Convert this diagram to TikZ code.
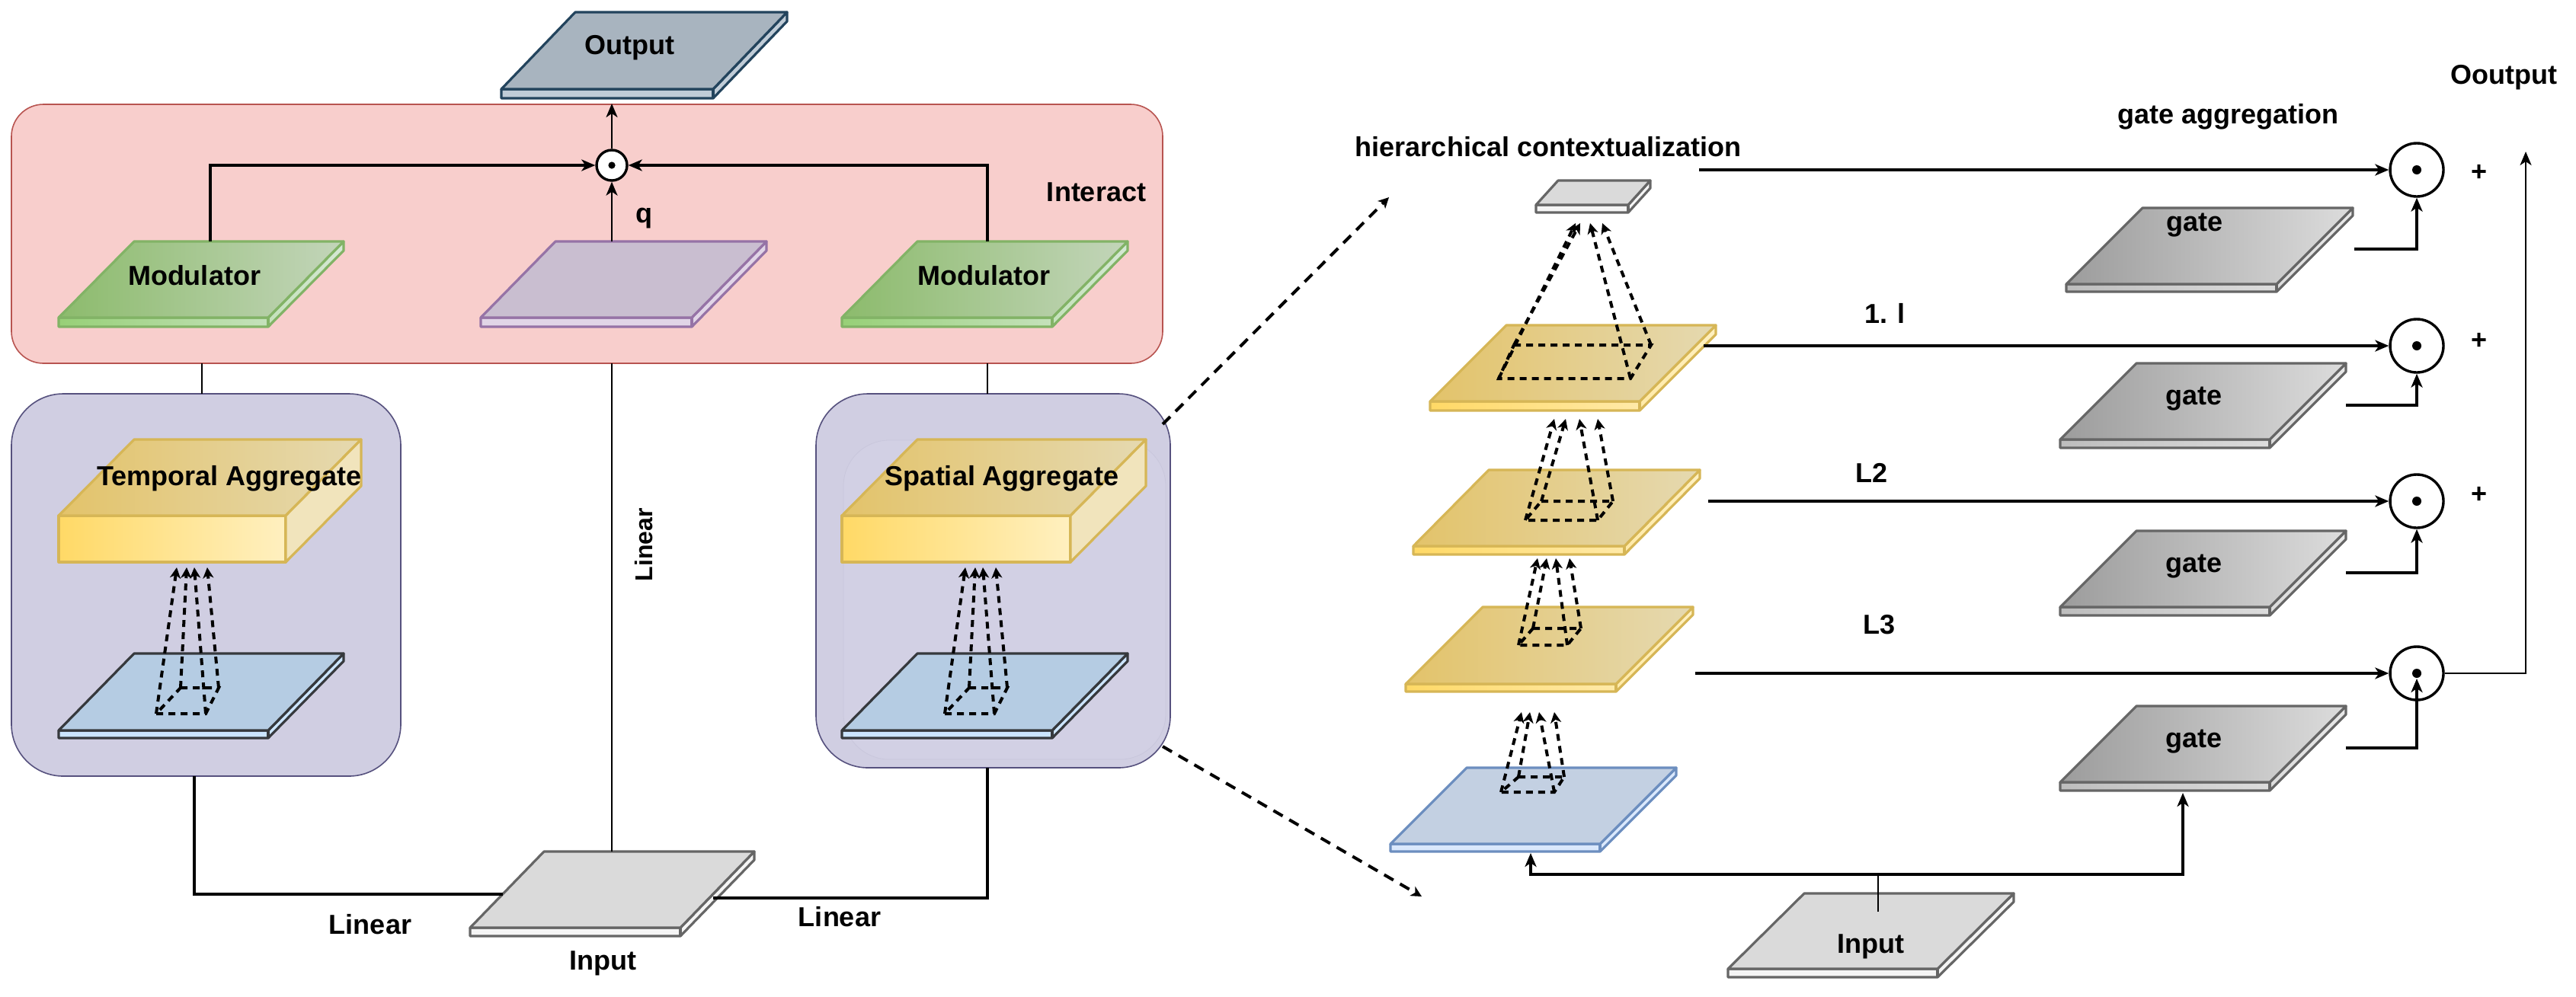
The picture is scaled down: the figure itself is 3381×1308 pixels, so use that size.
\documentclass[tikz,border=0pt]{standalone}
\usepackage{fontspec}
\setmainfont{Liberation Sans}
\usetikzlibrary{arrows.meta}
\definecolor{pinkF}{HTML}{F8CECC}\definecolor{pinkD}{HTML}{B85450}
\definecolor{purF}{HTML}{D0CEE2}\definecolor{purD}{HTML}{56517E}
\definecolor{purI}{HTML}{D2D0E4}\definecolor{purID}{HTML}{C9C7DC}
\definecolor{outF}{HTML}{A8B4BF}\definecolor{outS}{HTML}{C0CCD7}\definecolor{outD}{HTML}{23445D}
\definecolor{grnA}{HTML}{8CBB6C}\definecolor{grnB}{HTML}{C3D5BA}\definecolor{grnSA}{HTML}{97D077}\definecolor{grnSB}{HTML}{D5E8D4}\definecolor{grnD}{HTML}{82B366}
\definecolor{vioF}{HTML}{C9BED0}\definecolor{vioS}{HTML}{E1D5E7}\definecolor{vioD}{HTML}{9673A6}
\definecolor{yelA}{HTML}{E3C36A}\definecolor{yelB}{HTML}{E5D9B0}\definecolor{yelSA}{HTML}{FFD966}\definecolor{yelSB}{HTML}{FFF0C0}\definecolor{yelD}{HTML}{D6B656}\definecolor{yelSide}{HTML}{F1E4BC}
\definecolor{bluF}{HTML}{B5CCE3}\definecolor{bluS}{HTML}{CCE5FF}\definecolor{bluD}{HTML}{36393D}
\definecolor{blbF}{HTML}{C3D0E2}\definecolor{blbS}{HTML}{DAE8FC}\definecolor{blbD}{HTML}{6C8EBF}
\definecolor{gryF}{HTML}{DADADA}\definecolor{gryS}{HTML}{F5F5F5}\definecolor{gryD}{HTML}{666666}
\definecolor{gtA}{HTML}{9C9C9C}\definecolor{gtB}{HTML}{DCDCDC}\definecolor{gtSA}{HTML}{BDBDBD}\definecolor{gtSB}{HTML}{E8E8E8}
% plate: #1 x0, #2 y0 (back-left corner), #3 width, #4 skew, #5 depth, #6 slab, #7 top fill, #8 slab fill, #9 draw colour
\newcommand{\plate}[9]{%
  \path[#8,draw=#9,line width=1.6pt,line join=round] (#1,#2) ++(-#4,#5) -- ++(0,#6) -- ++(#3,0) -- ++(#4,-#5) -- ++(0,-#6) -- ++(-#4,#5) -- cycle;
  \path[#7,draw=#9,line width=1.6pt,line join=round] (#1,#2) -- ++(#3,0) -- ++(-#4,#5) -- ++(-#3,0) -- cycle;
  \draw[#9,line width=1.6pt] (#1,#2) ++(#3,0) ++(-#4,#5) -- ++(0,#6);}
% cuboid: #1 x front-left, #2 y front-top, #3 front width, #4 front height, #5 depth x, #6 depth y
\newcommand{\cuboid}[6]{%
  \path[left color=yelSA,right color=yelSB,draw=yelD,line width=1.6pt,line join=round] (#1,#2) rectangle ++(#3,#4);
  \path[left color=yelA,right color=yelB,draw=yelD,line width=1.6pt,line join=round] (#1,#2) -- ++(#5,-#6) -- ++(#3,0) -- ++(-#5,#6) -- cycle;
  \path[fill=yelSide,draw=yelD,line width=1.6pt,line join=round] (#1,#2) ++(#3,0) -- ++(#5,-#6) -- ++(0,#4) -- ++(-#5,#6) -- cycle;}
\newcommand{\pyrquad}[6]{%
  \coordinate (qbl) at (#2,#1); \coordinate (qbr) at (#3,#1);
  \coordinate (qfl) at (#5,#4); \coordinate (qfr) at (#6,#4);
  \draw[dsh] (qbl) -- (qbr) -- (qfr) -- (qfl) -- cycle;}
\newcommand{\pyrtips}[5]{%
  \coordinate (pt1) at (#2,#1); \coordinate (pt2) at (#3,#1);
  \coordinate (pt3) at (#4,#1); \coordinate (pt4) at (#5,#1);
  \draw[dsh,dtip] (qfl) -- (pt1);
  \draw[dsh,dtip] (qbl) -- (pt2);
  \draw[dsh,dtip] (qfr) -- (pt3);
  \draw[dsh,dtip] (qbr) -- (pt4);}
\begin{document}
\begin{tikzpicture}[x=0.5pt,y=-0.5pt,
  lbl/.style={font=\fontsize{18}{21}\selectfont\bfseries,inner sep=0pt},
  conn/.style={line width=1.8pt,draw=black},
  thin/.style={line width=1.3pt,draw=black},
  arr/.style={-{Stealth[length=9pt,width=7.5pt,inset=2.5pt]}},
  dsh/.style={line width=2pt,dash pattern=on 4.5pt off 3.5pt},
  dlong/.style={line width=2pt,dash pattern=on 7pt off 5pt},
  dtip/.style={-{Stealth[length=7pt,width=7pt,inset=2pt]}},
  odot/.style={circle,draw=black,line width=1.7pt,fill=white,inner sep=0pt}]
\useasboundingbox (0,0) rectangle (3381,1308);
\fill[white] (0,0) rectangle (3381,1308);

% ---------- left part ----------
\draw[fill=pinkF,draw=pinkD,line width=0.8pt,rounded corners=21pt] (15,137) rectangle (1526,477);
\draw[fill=purF,draw=purD,line width=0.8pt,rounded corners=34pt] (15,517) rectangle (526,1019);
\draw[fill=purF,draw=purD,line width=0.8pt,rounded corners=34pt] (1071,517) rectangle (1536,1008);
\draw[fill=purI,draw=purID,line width=0.4pt,rounded corners=30pt] (1107,578) rectangle (1530,997);

% output plate
\plate{755}{16}{278}{97}{101}{12}{fill=outF}{fill=outS}{outD}
\node[lbl] (tOutput) at (826,63) {Output};

% interact plates
\plate{176}{317}{275}{99}{100}{12}{left color=grnA,right color=grnB}{left color=grnSA,right color=grnSB}{grnD}
\plate{1204}{317}{276}{99}{100}{12}{left color=grnA,right color=grnB}{left color=grnSA,right color=grnSB}{grnD}
\plate{729}{317}{277}{98}{100}{12}{fill=vioF}{fill=vioS}{vioD}
\node[lbl] (tModL) at (255,362) {Modulator};
\node[lbl] (tModR) at (1291,362) {Modulator};
\node[lbl] (tq) at (845,287) {q};
\node[lbl] (tInteract) at (1439,252) {Interact};

\node[odot,minimum size=20pt] (odotL) at (803,217) {};
\fill (odotL.center) circle[radius=2.3pt];
\coordinate (modLtop) at (276,317);
\coordinate (modRtop) at (1296,317);
\coordinate (qtop) at (803,317);
\coordinate (outbot) at (803,136);
\draw[conn,arr] (modLtop) |- (odotL.west);
\draw[conn,arr] (modRtop) |- (odotL.east);
\draw[thin,arr] (qtop) -- (odotL.south);
\draw[thin,arr] (odotL.north) -- (outbot);

% aggregates
\cuboid{77}{677}{298}{61}{99}{100}
\cuboid{1105}{677}{300}{61}{99}{100}
\node[lbl] (tTemp) at (301,628) {Temporal Aggregate};
\node[lbl] (tSpat) at (1315,628) {Spatial Aggregate};
\plate{176}{858}{275}{99}{101}{10}{fill=bluF}{fill=bluS}{bluD}
\plate{1204}{858}{276}{99}{101}{10}{fill=bluF}{fill=bluS}{bluD}
\pyrquad{903}{237}{287}{937}{205}{270}
\pyrtips{745}{232}{245}{255}{272}
\pyrquad{903}{1272}{1322}{937}{1240}{1305}
\pyrtips{745}{1267}{1280}{1290}{1307}

% input (left)
\plate{714}{1118}{276}{97}{100}{11}{fill=gryF}{fill=gryS}{gryD}
\node[lbl] (tInL) at (791,1265) {Input};
\node[lbl] (tLin1) at (486,1214) {Linear};
\node[lbl] (tLin2) at (1102,1204) {Linear};
\node[font=\fontsize{16}{19}\selectfont\bfseries,inner sep=0pt,rotate=90] (tLin3) at (845,715) {Linear};

\coordinate (pinkL) at (265,477); \coordinate (tmpTop) at (265,517);
\coordinate (pinkR) at (1296,477); \coordinate (spTop) at (1296,517);
\coordinate (pinkM) at (803,477); \coordinate (inLtop) at (803,1118);
\coordinate (tmpBot) at (255,1019); \coordinate (inLleft) at (660,1174);
\coordinate (spBot) at (1296,1008); \coordinate (inLright) at (936,1179);
\draw[thin] (pinkL) -- (tmpTop);
\draw[thin] (pinkR) -- (spTop);
\draw[thin] (pinkM) -- (inLtop);
\draw[conn] (tmpBot) |- (inLleft);
\draw[conn] (spBot) |- (inLright);

% dashed links to right part
\coordinate (spA) at (1526,557); \coordinate (hcArr) at (1823,259);
\coordinate (spB) at (1526,980); \coordinate (bArr) at (1866,1177);
\draw[dlong,dtip] (spA) -- (hcArr);
\draw[dlong,dtip] (spB) -- (bArr);

% ---------- right part ----------
\plate{2045}{237}{121}{29}{32}{10}{fill=gryF}{fill=gryS}{gryD}
\plate{1977}{427}{275}{100}{100}{12}{left color=yelA,right color=yelB}{left color=yelSA,right color=yelSB}{yelD}
\plate{1954}{617}{277}{99}{100}{11}{left color=yelA,right color=yelB}{left color=yelSA,right color=yelSB}{yelD}
\plate{1946}{797}{276}{101}{101}{10}{left color=yelA,right color=yelB}{left color=yelSA,right color=yelSB}{yelD}
\plate{1925}{1008}{275}{100}{100}{10}{fill=blbF}{fill=blbS}{blbD}
\plate{2368}{1173}{275}{100}{99}{11}{fill=gryF}{fill=gryS}{gryD}
\node[lbl] (tInR) at (2455,1243) {Input};

\pyrquad{453}{1987}{2167}{497}{1967}{2140}
\pyrtips{293}{2068}{2074}{2087}{2103}
\pyrquad{658}{2023}{2117}{683}{2002}{2097}
\pyrtips{550}{2040}{2055}{2073}{2097}
\pyrquad{825}{2012}{2075}{847}{1993}{2057}
\pyrtips{733}{2018}{2030}{2042}{2060}
\pyrquad{1020}{1993}{2053}{1040}{1970}{2040}
\pyrtips{935}{1997}{2008}{2020}{2040}

% gates
\plate{2812}{273}{276}{100}{100}{10}{left color=gtA,right color=gtB}{left color=gtSA,right color=gtSB}{gryD}
\plate{2804}{477}{275}{100}{100}{11}{left color=gtA,right color=gtB}{left color=gtSA,right color=gtSB}{gryD}
\plate{2804}{697}{275}{100}{100}{11}{left color=gtA,right color=gtB}{left color=gtSA,right color=gtSB}{gryD}
\plate{2804}{927}{275}{100}{100}{11}{left color=gtA,right color=gtB}{left color=gtSA,right color=gtSB}{gryD}
\node[lbl] (tg1) at (2880,296) {gate};
\node[lbl] (tg2) at (2879,524) {gate};
\node[lbl] (tg3) at (2879,744) {gate};
\node[lbl] (tg4) at (2879,974) {gate};

% circles
\node[odot,minimum size=35pt] (c1) at (3172,223) {};
\node[odot,minimum size=35pt] (c2) at (3172,454) {};
\node[odot,minimum size=35pt] (c3) at (3172,658) {};
\node[odot,minimum size=35pt] (c4) at (3172,884) {};
\foreach \c in {c1,c2,c3,c4} \fill (\c.center) circle[radius=3pt];
\node[lbl] (p1) at (3254,227) {+};
\node[lbl] (p2) at (3254,448) {+};
\node[lbl] (p3) at (3254,650) {+};

% labels
\node[lbl] (tHC) at (2032,193) {hierarchical contextualization};
\node[lbl] (tGA) at (2924,153) {gate aggregation};
\node[lbl] (tOo) at (3286,102) {Ooutput};
\node[lbl] (tL1) at (2474,411) {1. l};
\node[lbl] (tL2) at (2456,621) {L2};
\node[lbl] (tL3) at (2466,820) {L3};

% row arrows
\coordinate (r1) at (2230,223); \coordinate (r2) at (2236,454);
\coordinate (r3) at (2242,658); \coordinate (r4) at (2225,884);
\draw[conn,arr] (r1) -- (c1.west);
\draw[conn,arr] (r2) -- (c2.west);
\draw[conn,arr] (r3) -- (c3.west);
\draw[conn,arr] (r4) -- (c4.west);
% gate links
\coordinate (g1o) at (3090,327); \coordinate (g2o) at (3079,532);
\coordinate (g3o) at (3079,752); \coordinate (g4o) at (3079,982);
\coordinate (c4dot) at (3172,891);
\draw[conn,arr] (g1o) -| (c1.south);
\draw[conn,arr] (g2o) -| (c2.south);
\draw[conn,arr] (g3o) -| (c3.south);
\draw[conn,arr] (g4o) -| (c4dot);
% output line
\coordinate (outTop) at (3315,199);
\draw[thin,arr] (c4.east) -| (outTop);
% input links
\coordinate (inRtop) at (2465,1197); \coordinate (inRj) at (2465,1148);
\coordinate (blueBot) at (2009,1120); \coordinate (g4Bot) at (2865,1041);
\draw[thin] (inRtop) -- (inRj);
\draw[conn,arr] (inRj) -| (blueBot);
\draw[conn,arr] (inRj) -| (g4Bot);
\end{tikzpicture}
\end{document}
